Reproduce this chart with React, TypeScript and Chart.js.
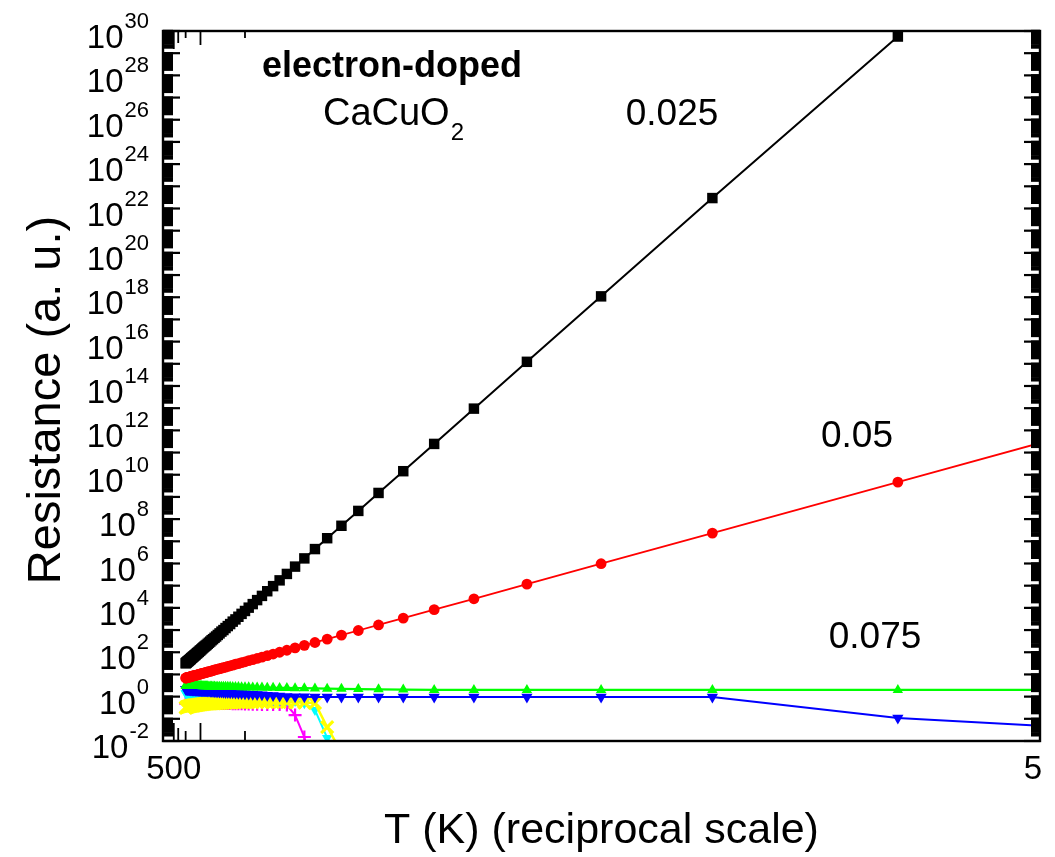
import { useEffect, useRef } from "react";
import { Chart, registerables } from "chart.js";

Chart.register(...registerables);

// Temperatures (K) of the computed points
const temperaturesK = [
  300, 296, 292, 288, 284, 280, 276, 272, 268, 264,
  260, 256, 252, 248, 244, 240, 236, 232, 228, 224,
  220, 216, 212, 208, 204, 200, 196, 192, 188, 184,
  180, 176, 172, 168, 164, 160, 156, 152, 148, 144,
  140, 136, 132, 128, 124, 120, 116, 112, 108, 104,
  100, 96, 92, 88, 84, 80, 76, 72, 68, 64,
  60, 56, 52, 48, 44, 40, 36, 32, 28, 24,
  20, 16, 12, 8,
];

// log10(Resistance) for each doping series
const log10R_0025 = [
  1.50, 1.52, 1.53, 1.55, 1.57, 1.59, 1.60, 1.62, 1.64, 1.66,
  1.68, 1.70, 1.73, 1.75, 1.77, 1.80, 1.82, 1.85, 1.87, 1.90,
  1.93, 1.96, 1.99, 2.02, 2.06, 2.09, 2.13, 2.17, 2.21, 2.25,
  2.29, 2.33, 2.38, 2.43, 2.48, 2.54, 2.59, 2.65, 2.71, 2.78,
  2.85, 2.93, 3.00, 3.09, 3.18, 3.27, 3.38, 3.48, 3.60, 3.73,
  3.86, 4.01, 4.17, 4.35, 4.54, 4.75, 4.98, 5.24, 5.53, 5.86,
  6.23, 6.65, 7.14, 7.70, 8.37, 9.18, 10.16, 11.39, 12.98, 15.09,
  18.04, 22.47, 29.75, null,
];

const log10R_005 = [
  0.84, 0.84, 0.85, 0.85, 0.86, 0.86, 0.87, 0.88, 0.88, 0.89,
  0.89, 0.90, 0.91, 0.92, 0.92, 0.93, 0.94, 0.95, 0.95, 0.96,
  0.97, 0.98, 0.99, 1.00, 1.01, 1.02, 1.03, 1.05, 1.06, 1.07,
  1.08, 1.10, 1.11, 1.13, 1.14, 1.16, 1.18, 1.20, 1.22, 1.24,
  1.26, 1.28, 1.31, 1.33, 1.36, 1.39, 1.42, 1.46, 1.49, 1.53,
  1.57, 1.62, 1.67, 1.72, 1.78, 1.85, 1.92, 2.00, 2.09, 2.20,
  2.31, 2.44, 2.59, 2.77, 2.98, 3.23, 3.54, 3.92, 4.41, 5.07,
  5.99, 7.37, 9.67, 14.27,
];

const log10R_0075 = [
  0.50, 0.50, 0.50, 0.50, 0.50, 0.50, 0.50, 0.49, 0.49, 0.49,
  0.49, 0.49, 0.49, 0.49, 0.49, 0.49, 0.49, 0.49, 0.48, 0.48,
  0.48, 0.48, 0.48, 0.48, 0.48, 0.48, 0.48, 0.47, 0.47, 0.47,
  0.47, 0.47, 0.47, 0.46, 0.46, 0.46, 0.46, 0.46, 0.45, 0.45,
  0.45, 0.45, 0.44, 0.44, 0.44, 0.44, 0.43, 0.43, 0.43, 0.42,
  0.42, 0.42, 0.41, 0.41, 0.41, 0.40, 0.40, 0.39, 0.39, 0.38,
  0.38, 0.37, 0.36, 0.35, 0.34, 0.33, 0.32, 0.30, 0.30, 0.30,
  0.30, 0.30, 0.30, 0.30,
];

const log10R_blue = [
  0.33, 0.33, 0.33, 0.33, 0.32, 0.32, 0.32, 0.32, 0.32, 0.31,
  0.31, 0.31, 0.31, 0.31, 0.30, 0.30, 0.30, 0.30, 0.30, 0.29,
  0.29, 0.29, 0.29, 0.28, 0.28, 0.28, 0.27, 0.27, 0.27, 0.26,
  0.26, 0.26, 0.25, 0.25, 0.24, 0.24, 0.23, 0.23, 0.22, 0.22,
  0.21, 0.21, 0.20, 0.19, 0.19, 0.18, 0.17, 0.16, 0.15, 0.14,
  0.13, 0.12, 0.11, 0.10, 0.08, 0.06, 0.05, 0.03, 0.01, 0.00,
  -0.01, -0.02, -0.02, -0.02, -0.02, -0.02, -0.02, -0.02, -0.02, -0.02,
  -0.02, -0.02, -0.96, -1.88,
];

const log10R_cyan = [
  0.15, 0.15, 0.14, 0.14, 0.14, 0.13, 0.13, 0.13, 0.12, 0.12,
  0.12, 0.11, 0.11, 0.11, 0.10, 0.10, 0.10, 0.09, 0.09, 0.08,
  0.08, 0.08, 0.07, 0.07, 0.06, 0.06, 0.05, 0.05, 0.04, 0.04,
  0.03, 0.03, 0.02, 0.02, 0.01, 0.00, 0.00, -0.01, -0.02, -0.02,
  -0.03, -0.04, -0.04, -0.05, -0.06, -0.06, -0.07, -0.08, -0.09, -0.10,
  -0.10, -0.11, -0.12, -0.13, -0.14, -0.15, -0.16, -0.17, -0.18, -0.20,
  -0.30, -0.60, -1.86, -3.50, null, null, null, null, null, null,
  null, null, null, null,
];

const log10R_magenta = [
  -0.30, -0.30, -0.30, -0.30, -0.30, -0.30, -0.30, -0.30, -0.30, -0.30,
  -0.30, -0.30, -0.30, -0.30, -0.30, -0.30, -0.30, -0.30, -0.30, -0.30,
  -0.30, -0.30, -0.30, -0.30, -0.30, -0.30, -0.30, -0.30, -0.30, -0.30,
  -0.30, -0.30, -0.30, -0.30, -0.30, -0.30, -0.30, -0.30, -0.30, -0.30,
  -0.31, -0.31, -0.31, -0.31, -0.31, -0.31, -0.32, -0.32, -0.32, -0.32,
  -0.33, -0.33, -0.34, -0.34, -0.35, -0.35, -0.36, -0.36, -0.38, -0.83,
  -1.82, -4.00, null, null, null, null, null, null, null, null,
  null, null, null, null,
];

const log10R_yellow = [
  -0.50, -0.49, -0.48, -0.47, -0.46, -0.45, -0.45, -0.44, -0.44, -0.43,
  -0.43, -0.42, -0.42, -0.41, -0.41, -0.40, -0.40, -0.39, -0.39, -0.38,
  -0.38, -0.37, -0.37, -0.36, -0.36, -0.35, -0.35, -0.34, -0.34, -0.33,
  -0.33, -0.32, -0.32, -0.31, -0.31, -0.30, -0.30, -0.30, -0.29, -0.29,
  -0.29, -0.28, -0.28, -0.28, -0.27, -0.27, -0.27, -0.26, -0.26, -0.26,
  -0.26, -0.25, -0.25, -0.25, -0.25, -0.25, -0.25, -0.25, -0.25, -0.26,
  -0.27, -0.29, -1.37, -2.50, null, null, null, null, null, null,
  null, null, null, null,
];

// Axis description
const yLabelExponents = [-2, 0, 2, 4, 6, 8, 10, 12, 14, 16, 18, 20, 22, 24, 26, 28, 30];
const xTickTemps = [500, 400, 300, 200, 100];
const xLabelLeft = "500";
const xLabelRight = "5";
const xTitle = "T (K) (reciprocal scale)";
const yTitle = "Resistance (a. u.)";
const noteLine1 = "electron-doped";
const noteLine2 = "CaCuO";
const noteSub = "2";
const seriesLabels = ["0.025", "0.05", "0.075"];

const FONT = '"Liberation Sans", Arial, Helvetica, sans-serif';

function toPoints(vals: (number | null)[]) {
  return temperaturesK.map((T, i) => ({
    x: 1 / T,
    y: vals[i] === null ? null : Math.pow(10, vals[i] as number),
  }));
}

const decorPlugin = {
  id: "decor",
  afterDatasetsDraw(chart: any) {
    const { ctx, chartArea: a, scales } = chart;
    const xs = scales.x;
    const ys = scales.y;
    const line = (x1: number, y1: number, x2: number, y2: number, w: number) => {
      ctx.lineWidth = w;
      ctx.beginPath();
      ctx.moveTo(x1, y1);
      ctx.lineTo(x2, y2);
      ctx.stroke();
    };
    ctx.save();
    ctx.strokeStyle = "#000";
    ctx.fillStyle = "#000";
    // minor y ticks (dense on a log axis)
    for (let e = -2; e < 30; e++) {
      for (let k = 2; k <= 9; k++) {
        const py = ys.getPixelForValue(k * Math.pow(10, e));
        line(a.left, py, a.left + 10, py, 4.4);
        line(a.right - 9, py, a.right, py, 4.4);
      }
    }
    // major y ticks
    for (let e = -2; e <= 30; e++) {
      const py = ys.getPixelForValue(Math.pow(10, e));
      line(a.left, py, a.left + 17, py, 2.2);
      line(a.right - 16, py, a.right, py, 2.2);
    }
    // x ticks (top and bottom)
    const lenB = [18, 13, 10, 18, 10];
    const lenT = [18, 12, 7, 14, 7];
    xTickTemps.forEach((T, i) => {
      const px = xs.getPixelForValue(1 / T);
      line(px, a.bottom, px, a.bottom - lenB[i], 1.8);
      line(px, a.top, px, a.top + lenT[i], 1.8);
    });
    // frame
    ctx.lineWidth = 2.4;
    ctx.strokeRect(a.left, a.top, a.right - a.left, a.bottom - a.top);

    // y tick labels 10^n
    ctx.textBaseline = "alphabetic";
    ctx.textAlign = "right";
    yLabelExponents.forEach((e) => {
      const py = ys.getPixelForValue(Math.pow(10, e));
      const rx = a.left - 14;
      ctx.font = `22px ${FONT}`;
      const es = String(e);
      const w = ctx.measureText(es).width;
      ctx.fillText(es, rx, py - 3);
      ctx.font = `33px ${FONT}`;
      ctx.fillText("10", rx - w - 1, py + 17);
    });

    // x tick labels
    ctx.textAlign = "center";
    ctx.font = `33px ${FONT}`;
    ctx.fillText(xLabelLeft, xs.getPixelForValue(1 / 500), a.bottom + 38);
    ctx.fillText(xLabelRight, a.right - 7, a.bottom + 38);

    // axis titles
    ctx.font = `43px ${FONT}`;
    ctx.fillText(xTitle, (a.left + a.right) / 2, a.bottom + 102);
    ctx.save();
    ctx.translate(60, (a.top + a.bottom) / 2 + 14);
    ctx.rotate(-Math.PI / 2);
    ctx.font = `47px ${FONT}`;
    ctx.fillText(yTitle, 0, 0);
    ctx.restore();

    // annotations
    ctx.font = `bold 36px ${FONT}`;
    ctx.fillText(noteLine1, a.left + 229, a.top + 46);
    ctx.font = `38px ${FONT}`;
    const w1 = ctx.measureText(noteLine2).width;
    ctx.font = `24px ${FONT}`;
    const w2 = ctx.measureText(noteSub).width;
    const startX = a.left + 230 - (w1 + w2) / 2;
    ctx.textAlign = "left";
    ctx.font = `38px ${FONT}`;
    ctx.fillText(noteLine2, startX, a.top + 94);
    ctx.font = `24px ${FONT}`;
    ctx.fillText(noteSub, startX + w1 + 1, a.top + 109);

    ctx.textAlign = "center";
    ctx.font = `37px ${FONT}`;
    ctx.fillText(seriesLabels[0], 672, a.top + 94);
    ctx.fillText(seriesLabels[1], 857, 447);
    ctx.fillText(seriesLabels[2], 875, 648);
    ctx.restore();
  },
};

export default function App() {
  const ref = useRef<HTMLCanvasElement | null>(null);
  useEffect(() => {
    if (!ref.current) return;
    const common = { tension: 0, clip: 0, spanGaps: false };
    const chart = new Chart(ref.current, {
      type: "line",
      data: {
        datasets: [
          {
            ...common,
            label: "0.025",
            data: toPoints(log10R_0025),
            borderColor: "#000000",
            backgroundColor: "#000000",
            borderWidth: 2,
            pointStyle: "rect",
            pointRadius: 7.4,
            pointBorderWidth: 0,
          },
          {
            ...common,
            label: "0.05",
            data: toPoints(log10R_005),
            borderColor: "#ff0000",
            backgroundColor: "#ff0000",
            borderWidth: 1.8,
            pointStyle: "circle",
            pointRadius: 5.4,
            pointBorderWidth: 0,
          },
          {
            ...common,
            label: "0.075",
            data: toPoints(log10R_0075),
            borderColor: "#00ff00",
            backgroundColor: "#00ff00",
            borderWidth: 2.2,
            pointStyle: "triangle",
            pointRadius: 6,
            pointBorderWidth: 0,
          },
          {
            ...common,
            label: "0.1",
            data: toPoints(log10R_blue),
            borderColor: "#0000ff",
            backgroundColor: "#0000ff",
            borderWidth: 2,
            pointStyle: "triangle",
            pointRotation: 180,
            pointRadius: 6.5,
            pointBorderWidth: 0,
          },
          {
            ...common,
            label: "yellow",
            data: toPoints(log10R_yellow),
            borderColor: "#ffff00",
            backgroundColor: "#ffff00",
            borderWidth: 2.5,
            pointStyle: "crossRot",
            pointRadius: 8.5,
            pointBorderWidth: 3.2,
          },
          {
            ...common,
            label: "cyan",
            data: toPoints(log10R_cyan),
            borderColor: "#00ffff",
            backgroundColor: "#00ffff",
            borderWidth: 2,
            pointStyle: "triangle",
            pointRotation: 180,
            pointRadius: 6,
            pointBorderWidth: 0,
          },
          {
            ...common,
            label: "magenta",
            data: toPoints(log10R_magenta),
            borderColor: "#ff00ff",
            backgroundColor: "#ff00ff",
            borderWidth: 2,
            pointStyle: "cross",
            pointRadius: 6.5,
            pointBorderWidth: 2.2,
          },
        ],
      },
      options: {
        animation: false,
        responsive: false,
        devicePixelRatio: 1,
        layout: { padding: { left: 163, right: 15, top: 31, bottom: 116 } },
        plugins: { legend: { display: false }, tooltip: { enabled: false } },
        scales: {
          x: { type: "linear", min: 0.00079, max: 0.0993, display: false },
          y: { type: "logarithmic", min: 1e-2, max: 1e30, display: false },
        },
      },
      plugins: [decorPlugin],
    } as any);
    return () => chart.destroy();
  }, []);
  return (
    <div style={{ position: "absolute", left: 0, top: 0, background: "#fff" }}>
      <canvas ref={ref} width={1055} height={857} style={{ display: "block" }} />
    </div>
  );
}
